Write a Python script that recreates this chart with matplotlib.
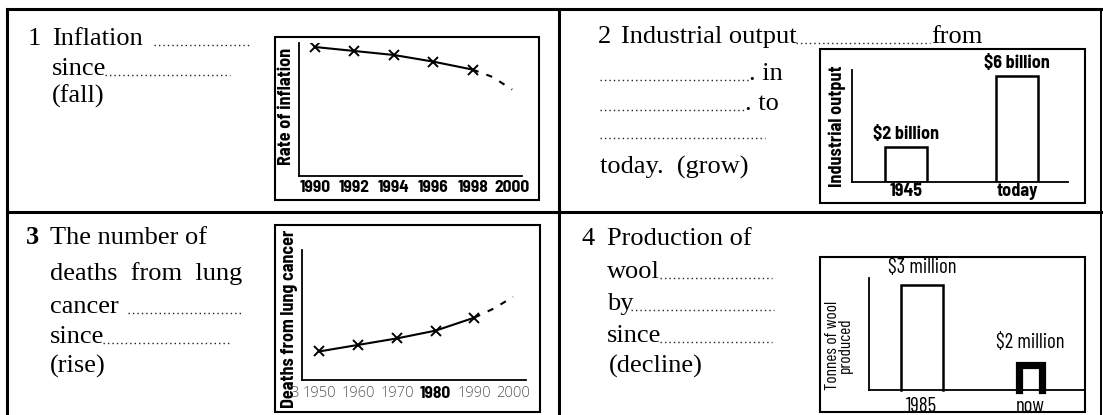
import matplotlib
matplotlib.use("Agg")
import matplotlib.pyplot as plt
from matplotlib.patches import Rectangle

# ---------------- data ----------------
infl_years = [1990, 1992, 1994, 1996, 1998]
infl_rate = [97, 94, 91, 86, 80]
infl_proj_years = [1998, 1999, 2000]
infl_proj_rate = [80, 74.5, 65]
infl_ticks = [1990, 1992, 1994, 1996, 1998, 2000]

output_cats = ["1945", "today"]
output_vals = [2, 6]
output_labels = ["$2 billion", "$6 billion"]

lung_years = [1950, 1960, 1970, 1980, 1990]
lung_deaths = [22, 27, 32, 38, 48]
lung_proj_years = [1990, 1995, 2000]
lung_proj_deaths = [48, 55, 64]
lung_ticks = [1950, 1960, 1970, 1980, 1990, 2000]

wool_cats = ["1985", "now"]
wool_heights = [3.0, 0.72]
wool_labels = ["$3 million", "$2 million"]

# ---------------- figure ----------------
W, H = 1103, 415
fig = plt.figure(figsize=(W / 100, H / 100), dpi=100)
fig.patch.set_facecolor("white")

bg = fig.add_axes([0, 0, 1, 1])
bg.set_xlim(0, W)
bg.set_ylim(H, 0)
bg.axis("off")

SERIF = ["Liberation Serif", "DejaVu Serif"]
COND = ["Barlow Condensed", "Liberation Sans", "DejaVu Sans"]
SEMI = ["Barlow Semi Condensed", "Barlow Condensed", "Liberation Sans", "DejaVu Sans"]
LIGHT = ["Open Sans", "DejaVu Sans"]


def px_axes(x0, y0, x1, y1):
    ax = fig.add_axes([x0 / W, 1 - y1 / H, (x1 - x0) / W, (y1 - y0) / H])
    ax.set_facecolor("none")
    for s in ("top", "right"):
        ax.spines[s].set_visible(False)
    for s in ("left", "bottom"):
        ax.spines[s].set_linewidth(1.3)
    ax.set_yticks([])
    return ax


# worksheet frame
fl = 2.2
bg.plot([7, 1101], [9, 9], color="k", lw=fl)
bg.plot([7, 7], [9, H], color="k", lw=fl)
bg.plot([1101, 1101], [9, H], color="k", lw=1.4)
bg.plot([559, 559], [9, H], color="k", lw=fl)
bg.plot([7, 1101], [212, 212], color="k", lw=fl)

# chart boxes
for (x0, y0, x1, y1) in [(275, 37, 539, 200), (820, 49, 1085, 203),
                         (275, 225, 540, 412), (820, 257, 1085, 412)]:
    bg.add_patch(Rectangle((x0, y0), x1 - x0, y1 - y0, fill=False,
                           ec="k", lw=1.5))


def txt(x, y, s, **kw):
    kw.setdefault("fontsize", 19)
    kw.setdefault("family", SERIF)
    bg.text(x, y, s, va="baseline", ha="left", color="k", **kw)


def dots(x0, x1, y):
    bg.plot([x0, x1], [y, y], color="#222", lw=1.0, ls=(0, (1, 2.2)))


# --- text panel 1
txt(28, 45, "1")
txt(52, 45, "Inflation")
dots(154, 249, 45)
txt(52, 75, "since")
dots(105, 230, 75)
txt(52, 103, "(fall)")

# --- text panel 2
txt(598, 43, "2")
txt(621, 43, "Industrial output")
dots(796, 930, 43)
txt(931, 43, "from")
dots(600, 749, 80)
txt(749, 80, ". in")
dots(600, 745, 110)
txt(745, 110, ". to")
dots(600, 765, 138)
txt(600, 174, "today.  (grow)")

# --- text panel 3
txt(26, 244, "3", weight="bold")
txt(50, 244, "The number of")
txt(50, 280, "deaths  from  lung")
txt(50, 313, "cancer")
dots(128, 242, 313)
txt(50, 343, "since")
dots(103, 230, 343)
txt(50, 373, "(rise)")

# --- text panel 4
txt(582, 245, "4")
txt(607, 245, "Production of")
txt(607, 278, "wool")
dots(660, 772, 278)
txt(607, 310, "by")
dots(631, 774, 310)
txt(607, 342, "since")
dots(660, 772, 342)
txt(609, 373, "(decline)")

# ---------------- chart 1: inflation ----------------
ax1 = px_axes(299, 43, 522, 176)
ax1.plot(infl_years, infl_rate, color="k", lw=1.5, marker="x", ms=7, mew=1.4)
ax1.plot(infl_proj_years, infl_proj_rate, color="k", lw=1.5, ls=(0, (3, 4)))
ax1.set_xlim(1989.2, 2000.5)
ax1.set_ylim(0, 100)
ax1.set_xticks(infl_ticks)
ax1.set_xticklabels([str(t) for t in infl_ticks], family=SEMI,
                    weight="bold", fontsize=12.5)
ax1.tick_params(axis="x", length=0, pad=3)
ax1.set_ylabel("Rate of inflation", family=SEMI, weight="bold", fontsize=13)
ax1.yaxis.set_label_coords(-0.016, 0.52)

# ---------------- chart 2: industrial output ----------------
ax2 = px_axes(852, 70, 1068, 182)
x2 = list(range(len(output_cats)))
bars2 = ax2.bar(x2, output_vals, width=0.38, fill=False, edgecolor="k", lw=1.8)
ax2.bar_label(bars2, labels=output_labels, padding=3, family=SEMI,
              weight="bold", fontsize=13)
ax2.set_xlim(-0.486, 1.46)
ax2.set_ylim(0, 6.34)
ax2.set_xticks(x2)
ax2.set_xticklabels(output_cats, family=SEMI, weight="bold", fontsize=13)
ax2.tick_params(axis="x", length=0, pad=1)
ax2.set_ylabel("Industrial output", family=SEMI, weight="bold", fontsize=13)
ax2.yaxis.set_label_coords(-0.03, 0.5)

# ---------------- chart 3: lung cancer ----------------
ax3 = px_axes(302, 250, 526, 380)
ax3.plot(lung_years, lung_deaths, color="k", lw=1.5, marker="x", ms=7, mew=1.4)
ax3.plot(lung_proj_years, lung_proj_deaths, color="k", lw=1.5, ls=(0, (3, 4)))
ax3.set_xlim(1945.5, 2003.3)
ax3.set_ylim(0, 100)
ax3.set_xticks(lung_ticks)
ax3.set_xticklabels([str(t) for t in lung_ticks], family=LIGHT,
                    weight="light", fontsize=10.5, color="#555555")
for lab in ax3.get_xticklabels():
    if lab.get_text() == "1980":
        lab.set_color("k")
        lab.set_weight("bold")
        lab.set_family(SEMI)
        lab.set_fontsize(12.5)
ax3.tick_params(axis="x", length=0, pad=4)
ax3.text(-0.032, -0.1, "3", transform=ax3.transAxes, ha="center", va="center",
         family=LIGHT, weight="light", fontsize=10.5, color="#555555")
ax3.set_ylabel("Deaths from lung cancer", family=SEMI, weight="bold",
               fontsize=13)
ax3.yaxis.set_label_coords(-0.02, 0.47)

# ---------------- chart 4: wool ----------------
ax4 = px_axes(869, 278, 1085, 390)
x4 = list(range(len(wool_cats)))
widths4 = [0.38, 0.21]
lws4 = [1.8, 5.2]
for xi, hi, wi, lwi, lab in zip(x4, wool_heights, widths4, lws4, wool_labels):
    ax4.plot([xi - wi / 2, xi - wi / 2, xi + wi / 2, xi + wi / 2],
             [0, hi, hi, 0], color="k", lw=lwi, solid_joinstyle="miter",
             clip_on=False)
    ax4.annotate(lab, (xi, hi), xytext=(0, 4 + lwi), textcoords="offset points",
                 ha="center", va="bottom", family=COND, fontsize=15)
ax4.set_xlim(-0.486, 1.5)
ax4.set_ylim(0, 3.2)
ax4.set_xticks(x4)
ax4.set_xticklabels(wool_cats, family=COND, fontsize=15)
ax4.tick_params(axis="x", length=0, pad=5)
ax4.set_ylabel("Tonnes of wool\nproduced", family=COND, fontsize=12.5,
               linespacing=0.8)
ax4.yaxis.set_label_coords(-0.074, 0.4)

fig.savefig("out.png", dpi=100, facecolor="white")
